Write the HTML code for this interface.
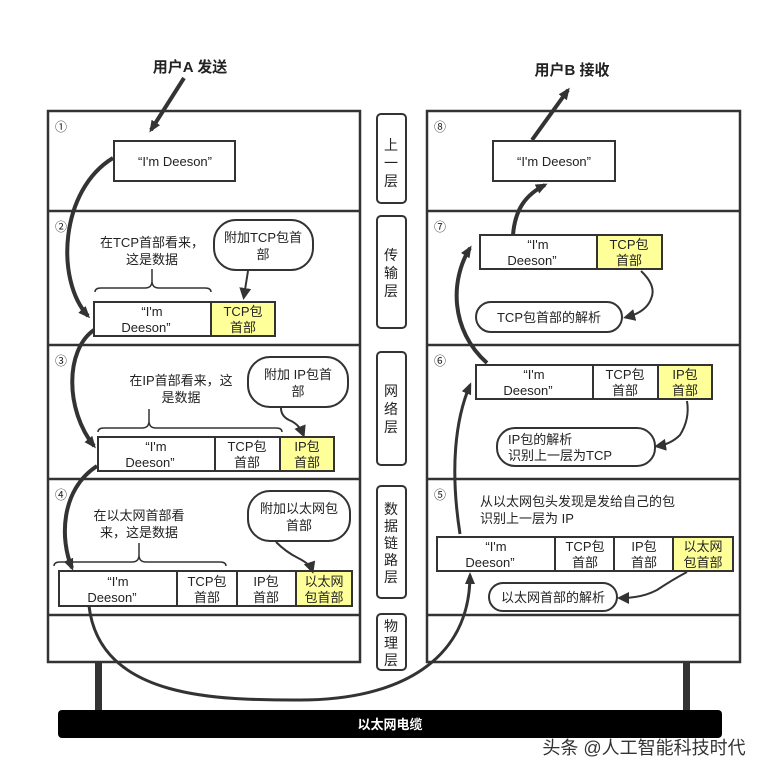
<!DOCTYPE html>
<html><head><meta charset="utf-8"><style>
body{margin:0;background:#fff}
svg text{font-family:"Liberation Sans","Noto Sans CJK SC",sans-serif;fill:#222}
</style></head><body>
<svg width="772" height="776" viewBox="0 0 772 776" xmlns="http://www.w3.org/2000/svg">
<defs>
<marker id="ah" markerWidth="6" markerHeight="6" refX="4" refY="3" orient="auto" markerUnits="strokeWidth"><path d="M0,0 L6,3 L0,6 z" fill="#333"/></marker>
<marker id="as" markerWidth="12" markerHeight="10" refX="9" refY="5" orient="auto" markerUnits="userSpaceOnUse"><path d="M0,0 L12,5 L0,10 z" fill="#333"/></marker>
</defs>
<g fill="none" stroke="#333" stroke-width="2.5">
<rect x="48" y="111" width="312" height="551"/>
<line x1="48" y1="211" x2="360" y2="211"/><line x1="48" y1="345" x2="360" y2="345"/><line x1="48" y1="479" x2="360" y2="479"/><line x1="48" y1="615" x2="360" y2="615"/>
<rect x="427" y="111" width="313" height="551"/>
<line x1="427" y1="211" x2="740" y2="211"/><line x1="427" y1="345" x2="740" y2="345"/><line x1="427" y1="479" x2="740" y2="479"/><line x1="427" y1="615" x2="740" y2="615"/>
</g>
<g fill="none" stroke="#333" stroke-width="2">
<rect x="377" y="114" width="29" height="89" rx="4"/>
<rect x="377" y="216" width="29" height="112" rx="4"/>
<rect x="377" y="352" width="29" height="113" rx="4"/>
<rect x="377" y="486" width="29" height="112" rx="4"/>
<rect x="377" y="614" width="29" height="56" rx="4"/>
</g>
<g font-size="14" text-anchor="middle">
<text x="391" y="150">上</text><text x="391" y="168">一</text><text x="391" y="186">层</text>
<text x="391" y="260">传</text><text x="391" y="278">输</text><text x="391" y="296">层</text>
<text x="391" y="396">网</text><text x="391" y="414">络</text><text x="391" y="432">层</text>
<text x="391" y="514">数</text><text x="391" y="531">据</text><text x="391" y="548">链</text><text x="391" y="565">路</text><text x="391" y="582">层</text>
<text x="391" y="631">物</text><text x="391" y="648">理</text><text x="391" y="665">层</text>
</g>
<rect x="95" y="662" width="7" height="50" fill="#333"/>
<rect x="683" y="662" width="7" height="50" fill="#333"/>
<rect x="58" y="710" width="664" height="28" rx="4" fill="#000"/>
<text x="390" y="729" text-anchor="middle" font-size="13" font-weight="bold" style="fill:#fff">以太网电缆</text>
<text x="644" y="754" text-anchor="middle" font-size="18" style="fill:#333">头条 @人工智能科技时代</text>
<text x="190" y="72" text-anchor="middle" font-size="15" font-weight="bold">用户A 发送</text>
<text x="572" y="75" text-anchor="middle" font-size="15" font-weight="bold">用户B 接收</text>
<g font-size="12">
<text x="55" y="131">①</text><text x="55" y="231">②</text><text x="55" y="365">③</text><text x="55" y="499">④</text>
<text x="434" y="131">⑧</text><text x="434" y="231">⑦</text><text x="434" y="365">⑥</text><text x="434" y="499">⑤</text>
</g>
<g stroke="#333" stroke-width="2" fill="#fff">
<rect x="114" y="141" width="121" height="40"/>
<rect x="493" y="141" width="122" height="40"/>
<rect x="94" y="302" width="117" height="34"/><rect x="211" y="302" width="64" height="34" fill="#ffff99"/>
<rect x="98" y="437" width="117" height="34"/><rect x="215" y="437" width="65" height="34"/><rect x="280" y="437" width="54" height="34" fill="#ffff99"/>
<rect x="59" y="571" width="118" height="35"/><rect x="177" y="571" width="60" height="35"/><rect x="237" y="571" width="59" height="35"/><rect x="296" y="571" width="56" height="35" fill="#ffff99"/>
<rect x="480" y="235" width="117" height="34"/><rect x="597" y="235" width="65" height="34" fill="#ffff99"/>
<rect x="476" y="365" width="117" height="34"/><rect x="593" y="365" width="65" height="34"/><rect x="658" y="365" width="54" height="34" fill="#ffff99"/>
<rect x="437" y="537" width="118" height="34"/><rect x="555" y="537" width="59" height="34"/><rect x="614" y="537" width="59" height="34"/><rect x="673" y="537" width="60" height="34" fill="#ffff99"/>
<rect x="214" y="220" width="99" height="50" rx="22"/>
<rect x="248" y="357" width="100" height="50" rx="22"/>
<rect x="248" y="491" width="102" height="50" rx="22"/>
<rect x="476" y="302" width="146" height="30" rx="15"/>
<rect x="497" y="428" width="158" height="38" rx="18"/>
<rect x="489" y="583" width="128" height="28" rx="14"/>
</g>
<g font-size="13" text-anchor="middle">
<text x="175" y="166">“I'm Deeson”</text>
<text x="554" y="166">“I'm Deeson”</text>
<text x="152" y="316">“I'm</text><text x="146" y="332">Deeson”</text>
<text x="243" y="316">TCP包</text><text x="243" y="332">首部</text>
<text x="156" y="451">“I'm</text><text x="150" y="467">Deeson”</text>
<text x="247" y="451">TCP包</text><text x="247" y="467">首部</text>
<text x="307" y="451">IP包</text><text x="307" y="467">首部</text>
<text x="118" y="586">“I'm</text><text x="112" y="602">Deeson”</text>
<text x="207" y="586">TCP包</text><text x="207" y="602">首部</text>
<text x="266" y="586">IP包</text><text x="266" y="602">首部</text>
<text x="324" y="586">以太网</text><text x="324" y="602">包首部</text>
<text x="538" y="249">“I'm</text><text x="532" y="265">Deeson”</text>
<text x="629" y="249">TCP包</text><text x="629" y="265">首部</text>
<text x="534" y="379">“I'm</text><text x="528" y="395">Deeson”</text>
<text x="625" y="379">TCP包</text><text x="625" y="395">首部</text>
<text x="685" y="379">IP包</text><text x="685" y="395">首部</text>
<text x="496" y="551">“I'm</text><text x="490" y="567">Deeson”</text>
<text x="585" y="551">TCP包</text><text x="585" y="567">首部</text>
<text x="644" y="551">IP包</text><text x="644" y="567">首部</text>
<text x="703" y="551">以太网</text><text x="703" y="567">包首部</text>
<text x="263" y="242">附加TCP包首</text><text x="263" y="259">部</text>
<text x="298" y="379">附加 IP包首</text><text x="298" y="396">部</text>
<text x="299" y="513">附加以太网包</text><text x="299" y="530">首部</text>
<text x="152" y="247">在TCP首部看来，</text><text x="152" y="264">这是数据</text>
<text x="181" y="385">在IP首部看来，这</text><text x="181" y="402">是数据</text>
<text x="139" y="520">在以太网首部看</text><text x="139" y="537">来，这是数据</text>
<text x="549" y="322">TCP包首部的解析</text>
<text x="553" y="602">以太网首部的解析</text>
</g>
<g font-size="13">
<text x="508" y="444">IP包的解析</text><text x="508" y="460">识别上一层为TCP</text>
<text x="480" y="506">从以太网包头发现是发给自己的包</text><text x="480" y="523">识别上一层为 IP</text>
</g>
<g fill="none" stroke="#333" stroke-width="1.5">
<path d="M95,292 q0,-4 6,-4 h44 q7,0 7,-7 v-12 M152,269 v12 q0,7 7,7 h46 q6,0 6,4"/>
<path d="M98,432 q0,-4 6,-4 h38 q7,0 7,-7 v-12 M149,409 v12 q0,7 7,7 h120 q6,0 6,4"/>
<path d="M54,566 q0,-4 6,-4 h72 q7,0 7,-7 v-12 M139,543 v12 q0,7 7,7 h74 q6,0 6,4"/>
</g>
<g fill="none" stroke="#333" stroke-width="2" marker-end="url(#ah)">
<path d="M248,271 L244,296"/>
<path d="M281,408 q0,8 8,12 q10,4 14,14"/>
<path d="M216,542 q10,10 22,16 q12,6 14,12" transform="translate(60,0)"/>
<path d="M641,271 q16,15 10,28 q-5,13 -24,18"/>
<path d="M687,401 q3,18 -7,34 q-9,9 -22,11"/>
<path d="M687,572 q-15,8 -30,18 q-15,8 -36,8"/>
</g>
<g fill="none" stroke="#333" stroke-width="4">
<path d="M184,78 L151,130" marker-end="url(#as)"/>
<path d="M532,140 L568,90" marker-end="url(#as)"/>
<path d="M113,158 C60,190 55,280 88,316" marker-end="url(#as)"/>
<path d="M94,330 C65,350 65,410 94,446" marker-end="url(#as)"/>
<path d="M97,466 C60,490 60,540 72,568" marker-end="url(#as)"/>
<path d="M89,606 C100,700 220,700 300,700 C400,700 470,660 470,575" stroke-width="3" marker-end="url(#as)"/>
<path d="M460,534 C450,470 455,420 470,385" stroke-width="3" marker-end="url(#as)"/>
<path d="M487,363 C450,330 450,280 470,248" marker-end="url(#as)"/>
<path d="M513,235 C515,210 525,195 545,185" marker-end="url(#as)"/>
</g>
</svg>
</body></html>
